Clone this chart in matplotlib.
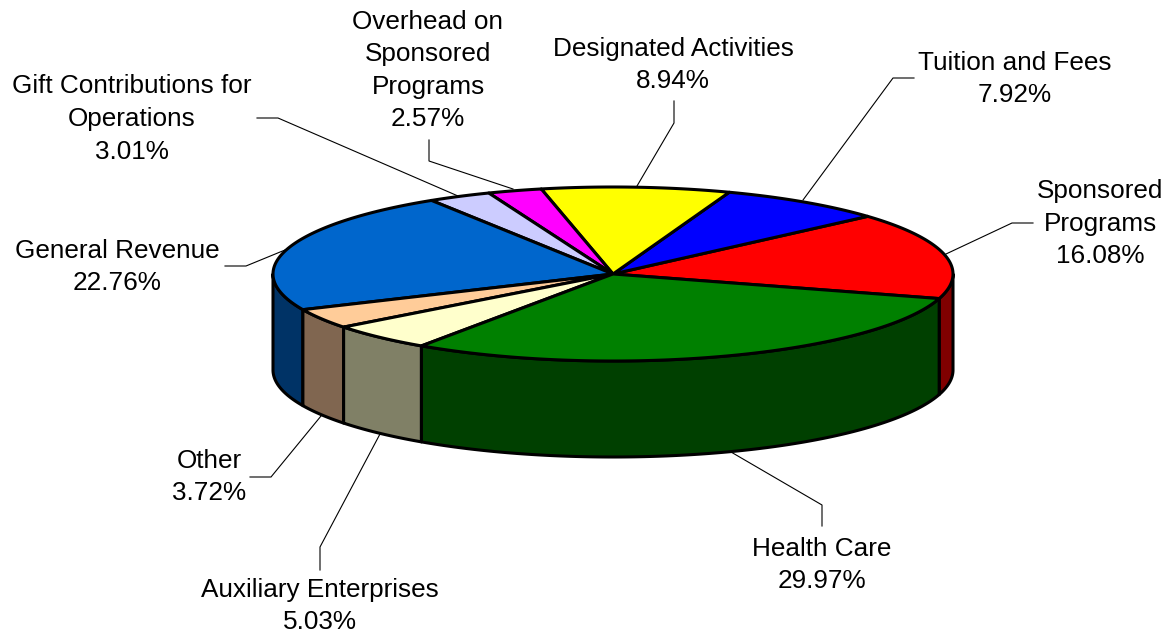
import numpy as np
import matplotlib
matplotlib.use("Agg")
import matplotlib.pyplot as plt

categories = ["Sponsored\nPrograms", "Tuition and Fees", "Designated Activities",
              "Overhead on\nSponsored\nPrograms", "Gift Contributions for\nOperations",
              "General Revenue", "Other", "Auxiliary Enterprises", "Health Care"]
values = [16.08, 7.92, 8.94, 2.57, 3.01, 22.76, 3.72, 5.03, 29.97]
top_colors = ["#FF0000", "#0000FF", "#FFFF00", "#FF00FF", "#CCCCFF",
              "#0066CC", "#FFCC99", "#FFFFCC", "#008000"]
side_colors = ["#800000", "#000080", "#808000", "#800080", "#666680",
               "#003366", "#806650", "#808066", "#004000"]
label_xy = [(1100, 223.5), (1015, 79), (673, 65), (428, 70.5), (132, 119),
            (117, 267), (209, 477), (320, 606), (822, 565)]
leaders = [[(1033, 223), (1012, 223), (946, 254)],
           [(914, 78), (893, 78), (803, 200)],
           [(674, 101), (674, 123), (637, 186)],
           [(429, 140), (429, 161), (513, 189)],
           [(257, 118), (278, 118), (458, 196)],
           [(225, 266), (246, 266), (285, 250)],
           [(250, 477), (271, 477), (321, 416)],
           [(320, 570), (320, 547), (380, 434)],
           [(822, 526), (822, 505), (731, 452)]]

CX, CY, RX, RY, DEPTH = 613, 274, 340, 87, 96
START = -16.4

fig = plt.figure(figsize=(11.69, 6.34), dpi=100)
ax = fig.add_axes([0, 0, 1, 1])
ax.set_xlim(0, 1169)
ax.set_ylim(634, 0)
ax.axis("off")

fracs = np.array(values) / sum(values) * 360
ends = START + np.cumsum(fracs)
starts = ends - fracs


def rim(a0, a1, dy=0):
    t = np.radians(np.linspace(a0, a1, 200))
    return CX + RX * np.cos(t), CY - RY * np.sin(t) + dy


# Side wall: only the front half of the rim (180..360 deg) is visible
for s, e, c in zip(starts, ends, side_colors):
    for off in (0, -360, 360):
        a0, a1 = max(s + off, 180), min(e + off, 360)
        if a1 > a0:
            x, y = rim(a0, a1)
            xb, yb = rim(a0, a1, DEPTH)
            ax.fill(np.r_[x, xb[::-1]], np.r_[y, yb[::-1]], facecolor=c,
                    edgecolor="black", lw=2.2, joinstyle="round", zorder=2)

# Top face
for s, e, c in zip(starts, ends, top_colors):
    x, y = rim(s, e)
    ax.fill(np.r_[CX, x], np.r_[CY, y], facecolor=c, edgecolor="black",
            lw=2.2, joinstyle="round", zorder=3)

# Leader lines and labels
for (name, v, (lx, ly), pts) in zip(categories, values, label_xy, leaders):
    px, py = zip(*pts)
    ax.plot(px, py, color="black", lw=0.8, zorder=4, solid_joinstyle="miter")
    ax.text(lx, ly, f"{name}\n{v:.2f}%", ha="center", va="center", color="black",
            family="Liberation Sans", fontsize=18.8, linespacing=1.45, zorder=5)

fig.savefig("out.png", dpi=100)
